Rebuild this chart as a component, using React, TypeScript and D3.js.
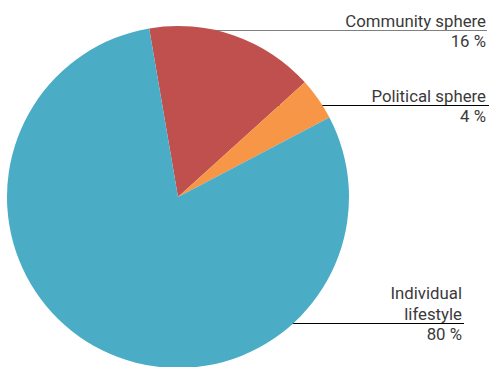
import React from "react";
import * as d3 from "d3";

const categories = ["Community sphere", "Political sphere", "Individual lifestyle"];
const values = [16, 4, 80];
const colors = ["#C0504D", "#F79646", "#4BACC6"];
const labelLines = [["Community sphere"], ["Political sphere"], ["Individual", "lifestyle"]];
const valueLabels = ["16 %", "4 %", "80 %"];

const W = 490, H = 367;
const cx = 178, cy = 197, R = 171;
const startDeg = -9.7;

// label anchors: line y, line right end, text right x
const labelPos = [
  { lineY: 30.5, lineX2: 487, textX: 486, color: "#808080" },
  { lineY: 105.5, lineX2: 489, textX: 486, color: "#000" },
  { lineY: 323.5, lineX2: 464, textX: 462, color: "#000" },
];

export default function App() {
  const pie = d3.pie<number>().sort(null)
    .startAngle((startDeg * Math.PI) / 180)
    .endAngle((startDeg * Math.PI) / 180 + 2 * Math.PI);
  const arcs = pie(values);
  const arc = d3.arc<d3.PieArcDatum<number>>().innerRadius(0).outerRadius(R);
  const font = "Roboto, sans-serif";
  return (
    <svg width={W} height={H} style={{ position: "absolute", left: 0, top: 0 }}>
      {labelPos.map((p, i) => (
        <line key={"l" + i} x1={cx} x2={p.lineX2} y1={p.lineY} y2={p.lineY} stroke={p.color} strokeWidth={1} />
      ))}
      <g transform={`translate(${cx},${cy})`}>
        {arcs.map((a, i) => (
          <path key={i} d={arc(a) || ""} fill={colors[i]} />
        ))}
      </g>
      {labelPos.map((p, i) => {
        const lines = labelLines[i];
        return (
          <g key={"t" + i} fontFamily={font} fontSize={16.8} fill="#3a3a3a" textAnchor="end">
            {lines.map((t, j) => (
              <text key={j} x={p.textX} y={p.lineY - 4 - (lines.length - 1 - j) * 21}>{t}</text>
            ))}
            <text x={p.textX} y={p.lineY + 16}>{valueLabels[i]}</text>
          </g>
        );
      })}
    </svg>
  );
}
